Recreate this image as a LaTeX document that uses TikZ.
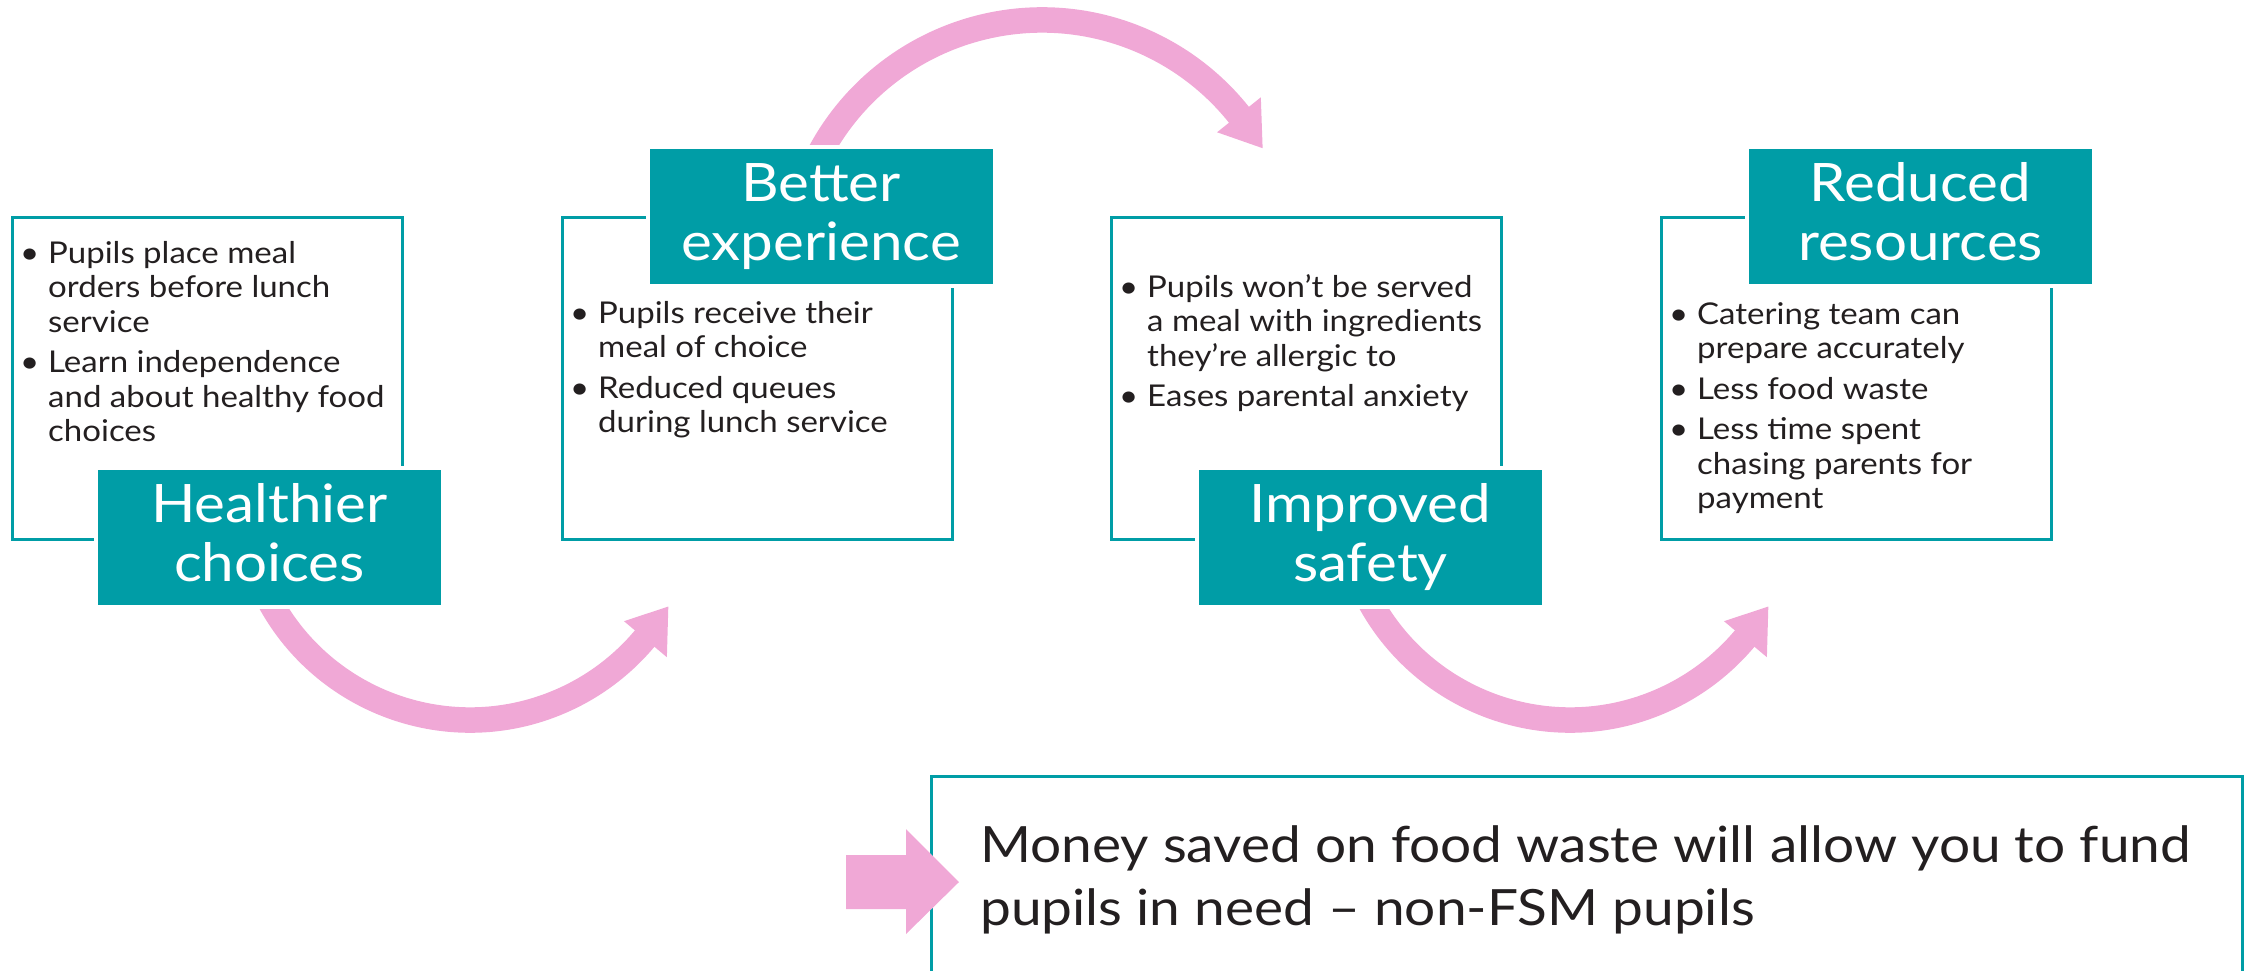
\documentclass[tikz,border=0pt]{standalone}
\usepackage{fontspec}
\setmainfont{Lato}[FakeStretch=1.1]
\usetikzlibrary{calc}

\definecolor{brandteal}{RGB}{0,157,166}
\definecolor{arrowpink}{RGB}{240,168,214}
\definecolor{inkdark}{RGB}{35,31,32}

% bullet with a fixed hanging indent
\newcommand{\bmark}{\makebox[28pt][l]{\textbullet}}
% two-line heading, baseline on the first line
\newcommand{\headtwo}[2]{\begin{tabular}[t]{@{}c@{}}#1\\#2\end{tabular}}

\begin{document}
\begin{tikzpicture}[x=1pt,y=-1pt,
  panel/.style={draw=brandteal, line width=2.5pt, rectangle, inner sep=0pt,
    minimum width=390pt, minimum height=322pt, anchor=north west},
  heading/.style={rectangle, fill=brandteal, draw=white, line width=4pt,
    inner sep=0pt, minimum width=347pt, minimum height=139pt,
    text height=54pt, text depth=85pt, text=white,
    font=\fontsize{53}{59}\selectfont},
  bodytext/.style={anchor=base west, inner sep=0pt, text=inkdark,
    font=\fontsize{30}{34.5}\selectfont},
  shaft/.style={draw=arrowpink, line width=25.5pt, line cap=butt},
  tip/.style={fill=arrowpink},
]
\useasboundingbox (0,0) rectangle (2251,970);
\clip (0,0) rectangle (2251,970);

% ---------- content panels ----------
\node[panel] (b1) at (11,216) {};
\node[panel] (b2) at (561,216) {};
\node[panel] (b3) at (1110,216) {};
\node[panel] (b4) at (1660,216) {};

% ---------- curved flow arrows ----------
\coordinate (c1) at (470,492);
\coordinate (c2) at (1042,272);
\coordinate (c3) at (1570,492);

\draw[shaft] ($(c1)+(-205:228)$) arc[start angle=-205, end angle=-321, radius=228];
\fill[tip] ($(c1)+(-320:201)$) -- ($(c1)+(-330:229)$) -- ($(c1)+(-320:257)$) -- cycle;

\draw[shaft] ($(c2)+(-155:252)$) arc[start angle=-155, end angle=-37.5, radius=252];
\fill[tip] ($(c2)+(-38.6:224)$) -- ($(c2)+(-29.3:253)$) -- ($(c2)+(-38.6:280)$) -- cycle;

\draw[shaft] ($(c3)+(-205:228)$) arc[start angle=-205, end angle=-321, radius=228];
\fill[tip] ($(c3)+(-320:201)$) -- ($(c3)+(-330:229)$) -- ($(c3)+(-320:257)$) -- cycle;

% ---------- headings ----------
\node[heading] (h1) at (269.5,537.5) {\headtwo{Healthier}{choices}};
\node[heading] (h2) at (821,216.5) {\headtwo{Better}{experience}};
\node[heading] (h3) at (1370.5,537.5) {\headtwo{Improved}{safety}};
\node[heading] (h4) at (1920.5,216.5) {\headtwo{Reduced}{resources}};

% ---------- bullet lists ----------
\node[bodytext] (t1) at (20,263) {\begin{tabular}[t]{@{}l@{}l@{}}
  \bmark & Pupils place meal\\
         & orders before lunch\\
         & service\\[6pt]
  \bmark & Learn independence\\
         & and about healthy food\\
         & choices
\end{tabular}};

\node[bodytext] (t2) at (570,323) {\begin{tabular}[t]{@{}l@{}l@{}}
  \bmark & Pupils receive their\\
         & meal of choice\\[6pt]
  \bmark & Reduced queues\\
         & during lunch service
\end{tabular}};

\node[bodytext] (t3) at (1119,297) {\begin{tabular}[t]{@{}l@{}l@{}}
  \bmark & Pupils won’t be served\\
         & a meal with ingredients\\
         & they’re allergic to\\[6pt]
  \bmark & Eases parental anxiety
\end{tabular}};

\node[bodytext] (t4) at (1669,324) {\begin{tabular}[t]{@{}l@{}l@{}}
  \bmark & Catering team can\\
         & prepare accurately\\[6pt]
  \bmark & Less food waste\\[6pt]
  \bmark & Less time spent\\
         & chasing parents for\\
         & payment
\end{tabular}};

% ---------- summary note ----------
\node[draw=brandteal, line width=2.5pt, rectangle, inner sep=0pt,
  minimum width=1311pt, minimum height=260pt, anchor=north west] (note) at (930,775) {};
\node[anchor=base west, inner sep=0pt, text=inkdark,
  font=\fontsize{50}{63}\selectfont] (notetext) at (980,862)
  {\begin{tabular}[t]{@{}l@{}}Money saved on food waste will allow you to fund\\
   pupils in need – non-FSM pupils\end{tabular}};

% block arrow pointing into the note
\fill[arrowpink] (846,855) -- (906,855) -- (906,829) -- (959,882)
  -- (906,934) -- (906,909) -- (846,909) -- cycle;

\end{tikzpicture}
\end{document}
